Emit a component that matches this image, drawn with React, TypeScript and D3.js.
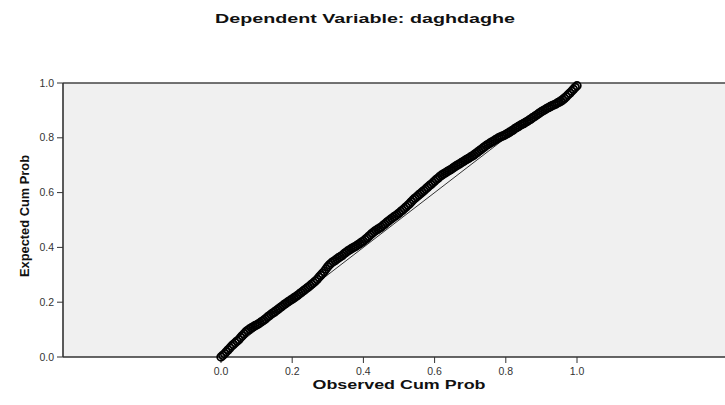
import React from "react";
import * as d3 from "d3";

const titleText = "Dependent Variable: daghdaghe";
const xTitle = "Observed Cum Prob";
const yTitle = "Expected Cum Prob";
const xTicks = [0, 0.2, 0.4, 0.6, 0.8, 1.0];
const yTicks = [0, 0.2, 0.4, 0.6, 0.8, 1.0];

const observedA = [
  0.000, 0.010, 0.020, 0.030, 0.040, 0.050, 0.060, 0.070, 0.080, 0.090,
  0.100, 0.110, 0.120, 0.130, 0.140, 0.150, 0.160, 0.170, 0.180, 0.190,
  0.200, 0.210, 0.220, 0.230, 0.240, 0.250, 0.260, 0.270, 0.280, 0.290,
  0.300, 0.310, 0.320, 0.330, 0.340, 0.350, 0.360, 0.370, 0.380, 0.390,
  0.400, 0.410, 0.420, 0.430, 0.440, 0.450, 0.460, 0.470, 0.480, 0.490,
  0.500, 0.510, 0.520, 0.530, 0.540, 0.550, 0.560, 0.570, 0.580, 0.590,
  0.600, 0.610, 0.620, 0.630, 0.640, 0.650, 0.660, 0.670, 0.680, 0.690,
  0.700, 0.710, 0.720, 0.730, 0.740, 0.750, 0.760, 0.770, 0.780, 0.790,
  0.800, 0.810, 0.820, 0.830, 0.840, 0.850, 0.860, 0.870, 0.880, 0.890,
  0.900, 0.910, 0.920, 0.930, 0.940, 0.950, 0.960, 0.970, 0.980, 0.990,
  1.000,
];

const expectedA = [
  0.000, 0.012, 0.026, 0.040, 0.052, 0.063, 0.078, 0.092, 0.102, 0.110,
  0.117, 0.125, 0.134, 0.145, 0.155, 0.164, 0.174, 0.184, 0.194, 0.203,
  0.211, 0.220, 0.230, 0.240, 0.250, 0.260, 0.271, 0.283, 0.298, 0.312,
  0.330, 0.343, 0.352, 0.362, 0.370, 0.381, 0.390, 0.398, 0.405, 0.414,
  0.423, 0.434, 0.446, 0.457, 0.466, 0.474, 0.485, 0.496, 0.506, 0.515,
  0.525, 0.536, 0.548, 0.560, 0.574, 0.585, 0.596, 0.607, 0.619, 0.630,
  0.642, 0.653, 0.664, 0.672, 0.680, 0.688, 0.697, 0.705, 0.713, 0.721,
  0.729, 0.737, 0.747, 0.757, 0.767, 0.776, 0.784, 0.792, 0.800, 0.806,
  0.812, 0.820, 0.828, 0.837, 0.845, 0.852, 0.860, 0.868, 0.877, 0.886,
  0.895, 0.903, 0.910, 0.917, 0.923, 0.930, 0.938, 0.950, 0.963, 0.977,
  0.990,
];

const observedB = [
  0.005, 0.015, 0.025, 0.035, 0.045, 0.055, 0.065, 0.075, 0.085, 0.095,
  0.105, 0.115, 0.125, 0.135, 0.145, 0.155, 0.165, 0.175, 0.185, 0.195,
  0.205, 0.215, 0.225, 0.235, 0.245, 0.255, 0.265, 0.275, 0.285, 0.295,
  0.305, 0.315, 0.325, 0.335, 0.345, 0.355, 0.365, 0.375, 0.385, 0.395,
  0.405, 0.415, 0.425, 0.435, 0.445, 0.455, 0.465, 0.475, 0.485, 0.495,
  0.505, 0.515, 0.525, 0.535, 0.545, 0.555, 0.565, 0.575, 0.585, 0.595,
  0.605, 0.615, 0.625, 0.635, 0.645, 0.655, 0.665, 0.675, 0.685, 0.695,
  0.705, 0.715, 0.725, 0.735, 0.745, 0.755, 0.765, 0.775, 0.785, 0.795,
  0.805, 0.815, 0.825, 0.835, 0.845, 0.855, 0.865, 0.875, 0.885, 0.895,
  0.905, 0.915, 0.925, 0.935, 0.945, 0.955, 0.965, 0.975, 0.985, 0.995,
];

const expectedB = [
  0.006, 0.019, 0.033, 0.046, 0.058, 0.071, 0.085, 0.097, 0.106, 0.114,
  0.121, 0.130, 0.139, 0.150, 0.160, 0.169, 0.179, 0.189, 0.198, 0.207,
  0.216, 0.225, 0.235, 0.245, 0.255, 0.266, 0.277, 0.291, 0.305, 0.321,
  0.337, 0.348, 0.357, 0.366, 0.376, 0.386, 0.394, 0.402, 0.410, 0.419,
  0.429, 0.440, 0.452, 0.462, 0.470, 0.480, 0.491, 0.501, 0.511, 0.520,
  0.531, 0.542, 0.554, 0.567, 0.580, 0.591, 0.602, 0.613, 0.625, 0.636,
  0.648, 0.659, 0.668, 0.676, 0.684, 0.693, 0.701, 0.709, 0.717, 0.725,
  0.733, 0.742, 0.752, 0.762, 0.772, 0.780, 0.788, 0.796, 0.803, 0.809,
  0.816, 0.824, 0.833, 0.841, 0.849, 0.856, 0.864, 0.873, 0.882, 0.891,
  0.899, 0.907, 0.914, 0.920, 0.927, 0.934, 0.944, 0.957, 0.970, 0.984,
];

const W = 725;
const H = 405;
const plotLeft = 63;
const plotTop = 83;
const plotBottom = 357;

export default function App() {
  const x = d3.scaleLinear().domain([0, 1]).range([221, 577]);
  const y = d3.scaleLinear().domain([0, 1]).range([plotBottom, plotTop]);
  const fmt = d3.format(".1f");
  const diag = d3.line<number>().x((d) => x(d)).y((d) => y(d));
  const pts: [number, number][] = [
    ...observedA.map((o, i) => [o, expectedA[i]] as [number, number]),
    ...observedB.map((o, i) => [o, expectedB[i]] as [number, number]),
  ];

  const tickFont = "'Liberation Sans', Arial, sans-serif";

  return (
    <svg
      width={W}
      height={H}
      style={{ position: "absolute", left: 0, top: 0, background: "#fff" }}
    >
      <text
        x={365}
        y={23}
        textAnchor="middle"
        fontFamily={tickFont}
        fontWeight="bold"
        fontSize={13}
        textLength={300}
        lengthAdjust="spacingAndGlyphs"
        fill="#111"
      >
        {titleText}
      </text>

      <rect
        x={plotLeft}
        y={plotTop}
        width={W - plotLeft + 10}
        height={plotBottom - plotTop}
        fill="#f0f0f0"
      />
      <line x1={plotLeft} x2={W + 5} y1={plotTop} y2={plotTop} stroke="#444" strokeWidth={1.6} />
      <line x1={plotLeft} x2={W + 5} y1={plotBottom} y2={plotBottom} stroke="#333" strokeWidth={1.6} />
      <line x1={plotLeft} x2={plotLeft} y1={plotTop} y2={plotBottom} stroke="#333" strokeWidth={1.6} />

      {yTicks.map((t) => (
        <g key={"y" + t}>
          <line x1={plotLeft - 6} x2={plotLeft} y1={y(t)} y2={y(t)} stroke="#333" strokeWidth={1} />
          <text
            x={plotLeft - 9}
            y={y(t) + 3.5}
            textAnchor="end"
            fontFamily={tickFont}
            fontSize={10.5}
            fill="#333"
          >
            {fmt(t)}
          </text>
        </g>
      ))}

      {xTicks.map((t) => (
        <g key={"x" + t}>
          <line x1={x(t)} x2={x(t)} y1={plotBottom} y2={plotBottom + 6} stroke="#333" strokeWidth={1} />
          <text
            x={x(t)}
            y={375}
            textAnchor="middle"
            fontFamily={tickFont}
            fontSize={10.5}
            fill="#333"
          >
            {fmt(t)}
          </text>
        </g>
      ))}

      <text
        x={399}
        y={389}
        textAnchor="middle"
        fontFamily={tickFont}
        fontWeight="bold"
        fontSize={13}
        textLength={173}
        lengthAdjust="spacingAndGlyphs"
        fill="#111"
      >
        {xTitle}
      </text>

      <text
        transform={`translate(29,216) rotate(-90)`}
        textAnchor="middle"
        fontFamily="'Liberation Sans Narrow', 'Arial Narrow', 'Liberation Sans', sans-serif"
        fontWeight="bold"
        fontSize={13}
        textLength={122}
        lengthAdjust="spacingAndGlyphs"
        fill="#111"
      >
        {yTitle}
      </text>

      <path d={diag([0, 1]) || ""} stroke="#333" strokeWidth={1} fill="none" />

      {pts.map((p, i) => (
        <circle
          key={i}
          cx={x(p[0])}
          cy={y(p[1])}
          r={3.8}
          fill="none"
          stroke="#000"
          strokeWidth={1.8}
        />
      ))}
    </svg>
  );
}
